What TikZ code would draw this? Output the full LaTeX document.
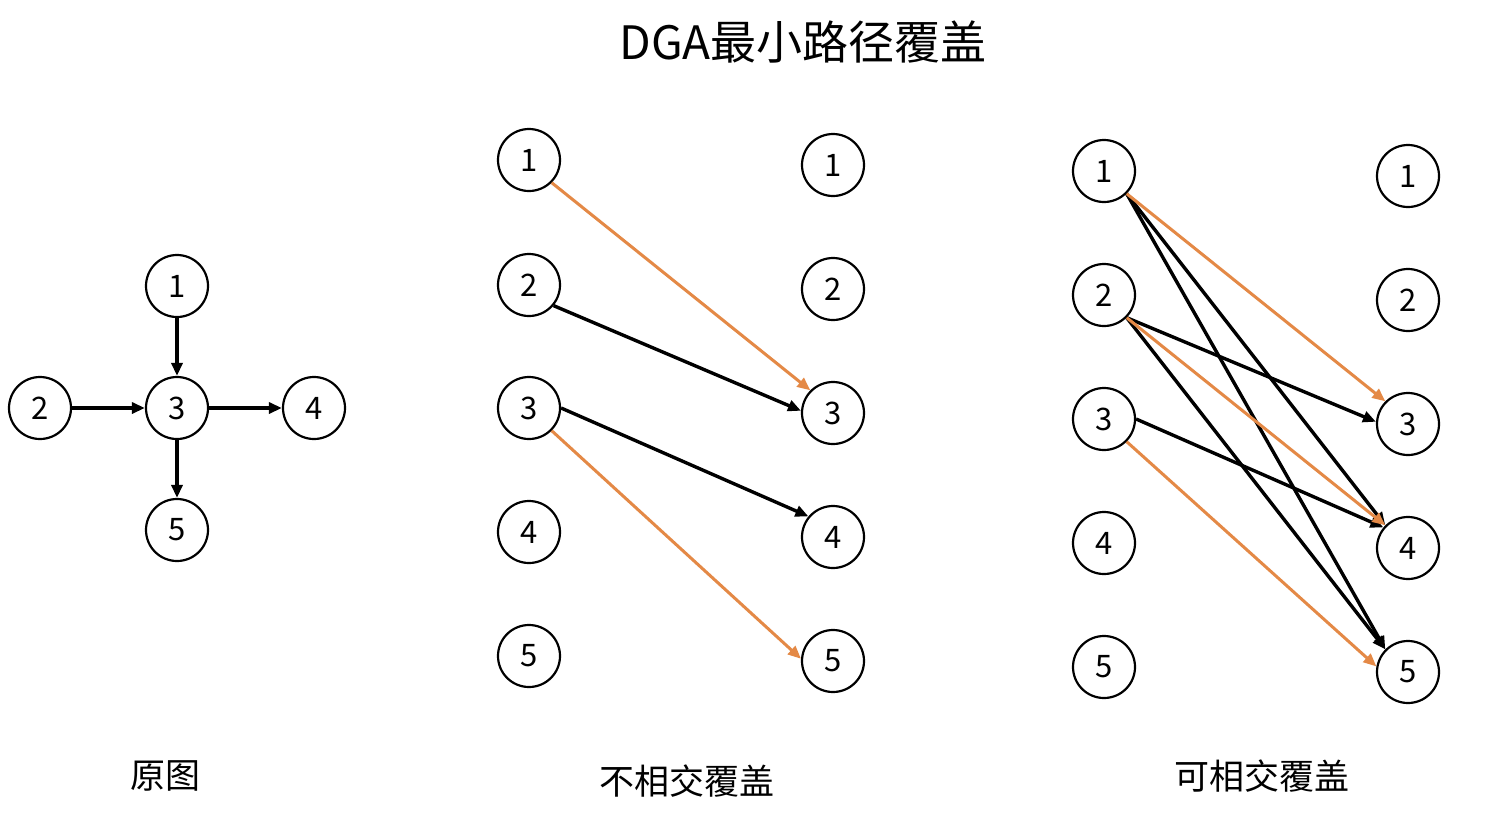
\documentclass[tikz,border=0pt]{standalone}
\usepackage{fontspec}
\setmainfont{Noto Sans CJK SC}
\newfontfamily\cjk{Noto Sans CJK SC}
\usetikzlibrary{arrows.meta}
\definecolor{edgeorange}{RGB}{228,137,70}
\begin{document}
\begin{tikzpicture}[x=1pt,y=-1pt,
  vtx/.style={circle,draw=black,line width=2.2pt,minimum size=62pt,inner sep=0pt,font=\cjk\fontsize{31}{31}\selectfont},
  blk/.style={draw=black,line width=3.4pt,-{Triangle[length=13pt,width=11pt]}},
  org/.style={draw=edgeorange,line width=3pt,-{Triangle[length=13pt,width=11pt]}},
  lbl/.style={font=\cjk\fontsize{35}{35}\selectfont}]
\useasboundingbox[fill=white] (0,0) rectangle (1486,822);
\node[font=\cjk\fontsize{46}{46}\selectfont] (title) at (803,42) {DGA最小路径覆盖};
% original graph
\node[vtx] (o1) at (177,286) {1};
\node[vtx] (o2) at (40,408) {2};
\node[vtx] (o3) at (177,408) {3};
\node[vtx] (o4) at (314,408) {4};
\node[vtx] (o5) at (177,530) {5};
\draw[blk] (o1) -- (o3);
\draw[blk] (o2) -- (o3);
\draw[blk] (o3) -- (o4);
\draw[blk] (o3) -- (o5);
% disjoint cover
\foreach \i/\y in {1/160,2/285,3/408,4/532,5/656} \node[vtx] (a\i) at (529,\y) {\i};
\foreach \i/\y in {1/165,2/289,3/413,4/537,5/661} \node[vtx] (b\i) at (833,\y) {\i};
\draw[org] (a1.south east) -- (b3.north west);
\draw[blk] (a2.-40) -- (b3.176);
\draw[blk] (a3.east) -- (b4.140);
\draw[org] (a3.south east) -- (b5.176);
% intersecting cover
\foreach \i/\y in {1/171,2/295,3/419,4/543,5/667} \node[vtx] (c\i) at (1104,\y) {\i};
\foreach \i/\y in {1/176,2/300,3/424,4/548,5/672} \node[vtx] (d\i) at (1408,\y) {\i};
\draw[blk] (c1.south east) -- (d4.north west);
\draw[blk] (c1.south east) -- (d5.north west);
\draw[blk] (c2.south east) -- (d3.176);
\draw[blk] (c2.south east) -- (d5.north west);
\draw[blk] (c3.east) -- (d4.140);
\draw[org] (c1.south east) -- (d3.north west);
\draw[org] (c2.south east) -- (d4.north west);
\draw[org] (c3.south east) -- (d5.170);
% captions
\node[lbl] (cap1) at (165,776) {原图};
\node[lbl] (cap2) at (687,781) {不相交覆盖};
\node[lbl] (cap3) at (1262,776) {可相交覆盖};
\end{tikzpicture}
\end{document}
